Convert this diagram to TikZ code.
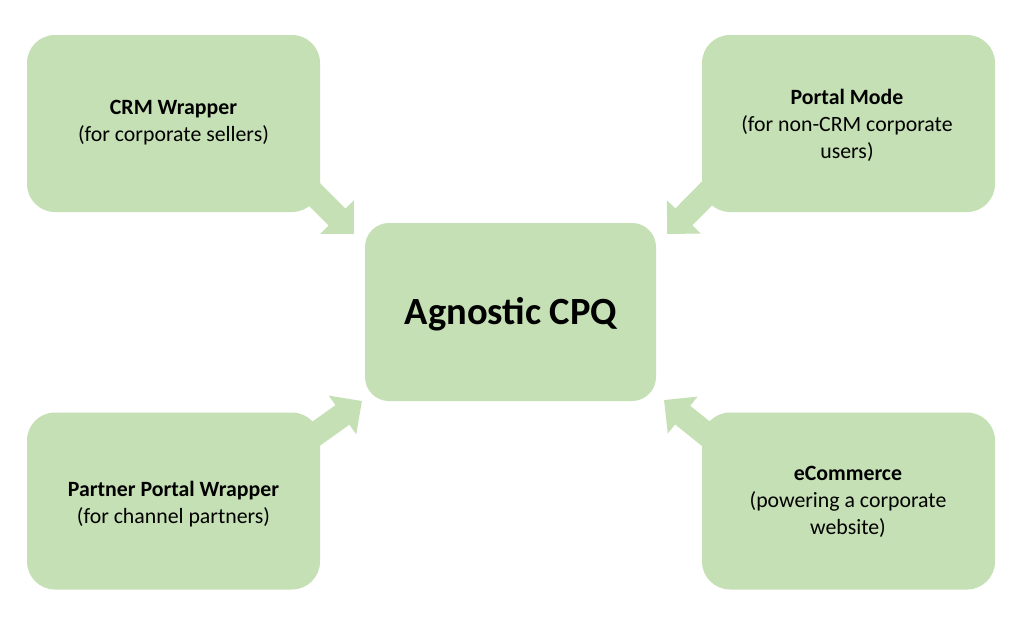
\documentclass[tikz,border=0pt]{standalone}
\usepackage{fontspec}
\setmainfont{Carlito}
\usetikzlibrary{arrows.meta}
\definecolor{boxgreen}{HTML}{C5E0B4}
\tikzset{
  gbox/.style={fill=boxgreen, draw=none, rounded corners=28pt, minimum width=293pt, minimum height=177pt, inner sep=0pt},
  cbox/.style={fill=boxgreen, draw=none, rounded corners=24pt, minimum width=291pt, minimum height=178pt, inner sep=0pt},
  lbl/.style={align=center, font=\fontsize{21.8}{27}\selectfont, text=black},
  blockarrow/.style={draw=boxgreen, line width=24pt, -{Triangle[width=46pt,length=24pt]}}
}
\begin{document}
\begin{tikzpicture}[x=1pt,y=-1pt]
\useasboundingbox[fill=white] (0,0) rectangle (1024,619);
% arrow anchors
\coordinate (s1) at (285,165);
\coordinate (t1) at (354,234);
\coordinate (s2) at (737,163);
\coordinate (t2) at (667,234);
\coordinate (s3) at (296,448);
\coordinate (t3) at (362,401);
\coordinate (s4) at (726,450);
\coordinate (t4) at (664,400);
\draw[blockarrow] (s1) -- (t1);
\draw[blockarrow] (s2) -- (t2);
\draw[blockarrow] (s3) -- (t3);
\draw[blockarrow] (s4) -- (t4);
% boxes
\node[gbox] (crm) at (173.5,123.5) {};
\node[gbox] (portal) at (848.5,123.5) {};
\node[gbox] (partner) at (173.5,501) {};
\node[gbox] (ecom) at (848.5,501) {};
\node[cbox] (cpq) at (510.5,312) {};
% labels
\node[lbl] (crmt) at (173.5,123) {\textbf{CRM Wrapper}\\(for corporate sellers)};
\node[lbl] (portalt) at (847,125) {\textbf{Portal Mode}\\(for non-CRM corporate\\users)};
\node[lbl] (partnert) at (173.5,504) {\textbf{Partner Portal Wrapper}\\(for channel partners)};
\node[lbl] (ecomt) at (848,502) {\textbf{eCommerce}\\(powering a corporate\\website)};
\node[font=\fontsize{38.5}{44}\selectfont\bfseries, text=black] (cpqt) at (511,314) {Agnostic CPQ};
\end{tikzpicture}
\end{document}
